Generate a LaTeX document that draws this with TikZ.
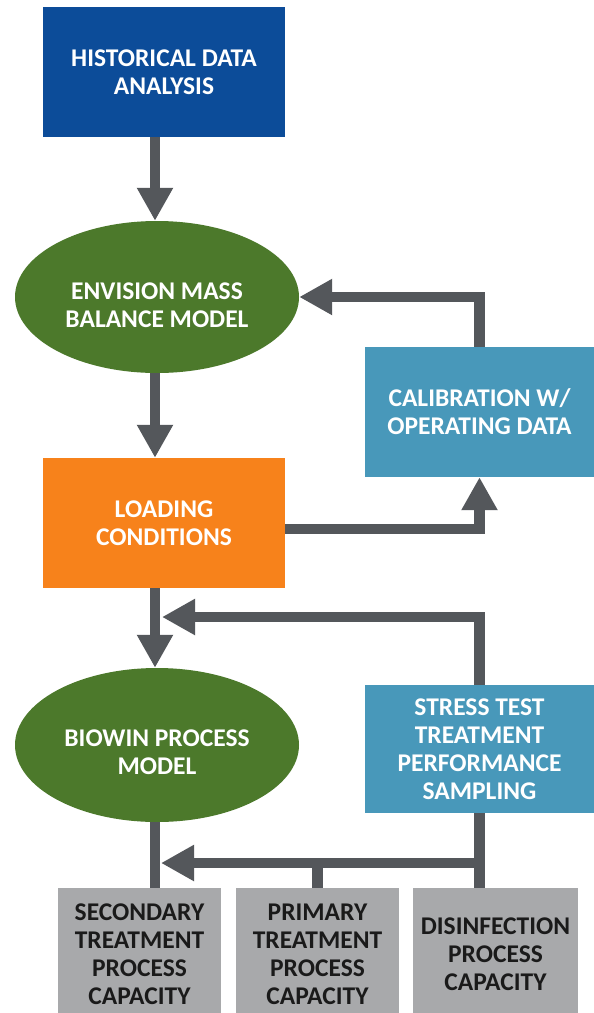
\documentclass[tikz,border=0pt]{standalone}
\usepackage{fontspec}
\setmainfont{Carlito}
\usetikzlibrary{arrows.meta,shapes.geometric}
\definecolor{cblue}{RGB}{12,76,153}
\definecolor{cgreen}{RGB}{76,121,43}
\definecolor{corange}{RGB}{247,130,27}
\definecolor{cteal}{RGB}{72,152,186}
\definecolor{cgreybox}{RGB}{168,169,171}
\definecolor{carrow}{RGB}{84,87,91}
\definecolor{cdark}{RGB}{26,26,26}
\begin{document}
\begin{tikzpicture}[x=1pt,y=-1pt,
  txt/.style={align=center,font=\bfseries\fontsize{25.5}{28}\selectfont},
  box/.style={txt,rectangle,inner sep=0pt,text=white},
  ell/.style={ellipse,inner sep=0pt,fill=cgreen,minimum width=284pt},
  elltext/.style={txt,text=white,inner sep=0pt},
  greybox/.style={txt,rectangle,inner sep=0pt,text=cdark,fill=cgreybox,minimum width=163pt,minimum height=133pt},
  arr/.style={draw=carrow,line width=10.5pt,-{Triangle[width=34pt,length=33pt]}},
  ln/.style={draw=carrow,line width=10.5pt}]
\useasboundingbox (0,0) rectangle (594,1013);
\fill[white] (0,0) rectangle (594,1013);
\node[box,fill=cblue,minimum width=242pt,minimum height=130pt] (hist) at (164,72) {HISTORICAL DATA\\ANALYSIS};
\node[ell,minimum height=152pt] (env) at (157,297) {};
\node[elltext] (envt) at (157,305) {ENVISION MASS\\BALANCE MODEL};
\node[box,fill=cteal,minimum width=229pt,minimum height=130pt] (calib) at (479.5,412) {CALIBRATION W/\\OPERATING DATA};
\node[box,fill=corange,minimum width=242pt,minimum height=130pt] (load) at (164,523) {LOADING\\CONDITIONS};
\node[ell,minimum height=154pt] (bio) at (157,745) {};
\node[elltext] (biot) at (157,752) {BIOWIN PROCESS\\MODEL};
\node[box,fill=cteal,minimum width=229pt,minimum height=128pt] (stress) at (479.5,749) {STRESS TEST\\TREATMENT\\PERFORMANCE\\SAMPLING};
\node[greybox] (sec) at (139.5,954.5) {SECONDARY\\TREATMENT\\PROCESS\\CAPACITY};
\node[greybox] (pri) at (317.5,954.5) {PRIMARY\\TREATMENT\\PROCESS\\CAPACITY};
\node[greybox,minimum width=165pt] (dis) at (495.5,954.5) {DISINFECTION\\PROCESS\\CAPACITY};
\coordinate (col) at (155,0);
\coordinate (fb) at (162,617);
\coordinate (jn) at (479.5,863);
\coordinate (bt) at (161,863);
\draw[arr] (hist.south -| col) -- (env.north -| col);
\draw[arr] (env.south -| col) -- (load.north -| col);
\draw[arr] (load.south -| col) -- (bio.north -| col);
\draw[arr] (calib.north) |- (env.east);
\draw[arr] ([yshift=-6pt]load.east) -| (calib.south);
\draw[arr] (stress.north) |- (fb);
\draw[ln] (bio.south -| col) -- (sec.north -| col);
\draw[ln] (stress.south) -- (stress.south |- dis.north);
\draw[ln] (pri.north) -- (pri.north |- jn);
\draw[arr] (jn) -- (bt);
\end{tikzpicture}
\end{document}
